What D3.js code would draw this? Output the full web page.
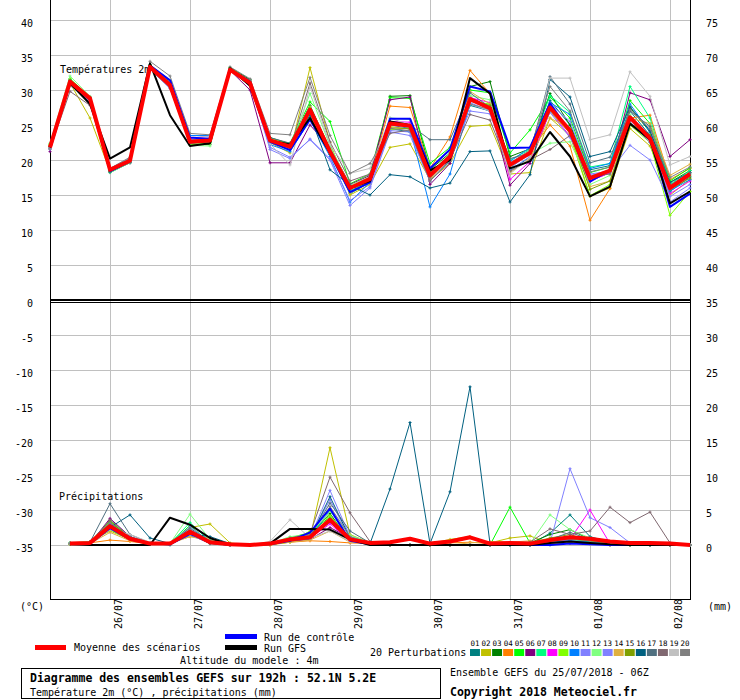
<!doctype html>
<html lang="fr">
<head>
<meta charset="utf-8">
<title>Diagramme des ensembles GEFS</title>
<script src="https://d3js.org/d3.v7.min.js"></script>
<style>
  body { margin: 0; background: #fff; }
  svg text { font-family: "DejaVu Sans Mono", "Liberation Mono", monospace; fill: #000; }
</style>
</head>
<body>
<div id="chart"></div>
<script>
// ---- data -------------------------------------------------------------
// 33 steps of 6h from 25/07 06Z (step 0) to 02/08 06Z (step 32)
var dayLabels = ["26/07", "27/07", "28/07", "29/07", "30/07", "31/07", "01/08", "02/08"];
var dayStep = [3, 7, 11, 15, 19, 23, 27, 31];

var tempTicksLeft = [40, 35, 30, 25, 20, 15, 10, 5, 0, -5, -10, -15, -20, -25, -30, -35];
var tempTicksRight = [75, 70, 65, 60, 55, 50, 45, 40, 35];
var precTicksRight = [30, 25, 20, 15, 10, 5, 0];

var memberNames = ["01","02","03","04","05","06","07","08","09","10","11","12","13","14","15","16","17","18","19","20"];
var memberColors = ["#008080","#c0c000","#008000","#ff8000","#00ff00","#800080","#00ff80","#ff00ff","#80ff00","#0080ff",
                    "#8080ff","#80ff80","#8080ff","#e0b040","#80a000","#006080","#507080","#806870","#c0c0c0","#808080"];

// temperature 2m (°C), steps 0..32
var tempMean = [21.8,31.2,28.8,18.6,19.9,33.3,30.7,22.6,22.8,32.9,31.0,22.8,21.9,27.2,21.2,16.0,17.3,25.2,24.9,17.8,20.5,28.7,27.4,19.3,21.0,27.5,24.2,17.4,18.5,26.1,23.1,16.0,18.0];
var tempCtrl = [21.8,31.2,28.6,18.4,19.8,33.5,31.4,23.2,23.0,32.9,31.2,22.6,21.4,25.8,21.0,15.4,16.8,25.9,25.9,18.8,21.5,30.5,29.8,21.7,21.8,28.1,24.0,16.9,18.6,26.2,23.3,13.3,15.2];
var tempGfs = [21.8,31.0,28.0,20.2,21.8,33.8,26.4,22.0,22.4,33.1,30.6,22.8,22.2,26.0,21.0,16.0,17.0,25.5,25.0,18.5,20.0,31.7,29.5,18.8,19.8,24.0,20.5,14.8,16.2,25.2,22.9,13.8,15.5];

var temp01 = [22.0,31.5,28.6,18.2,19.6,33.5,31.0,23.0,22.6,33.0,31.4,23.0,22.0,26.0,20.8,15.2,16.8,24.5,24.0,17.0,19.8,27.8,27.0,18.5,20.4,28.5,25.0,18.6,19.2,27.0,23.5,15.5,17.6];
var temp02 = [22.2,31.0,26.0,18.4,20.0,33.2,30.4,22.4,22.6,33.1,30.8,22.5,21.0,33.2,22.5,15.0,16.5,21.8,22.3,17.2,19.5,24.8,25.0,18.0,18.2,26.0,23.5,14.8,16.0,24.5,22.0,15.0,17.2];
var temp03 = [21.8,31.4,28.8,18.3,19.7,33.6,31.2,22.2,22.2,33.2,31.5,23.2,22.3,27.8,21.6,16.2,17.2,29.1,29.2,18.6,21.0,30.5,31.2,20.5,21.6,29.5,25.0,17.6,18.6,27.5,24.0,16.8,18.5];
var temp04 = [21.6,31.2,28.5,18.5,19.8,33.0,30.5,22.8,23.0,32.8,31.2,22.7,22.0,26.5,21.0,15.8,17.5,27.7,27.5,18.8,23.3,32.8,29.5,19.0,21.3,25.0,22.0,11.4,15.9,26.0,26.4,17.2,18.8];
var temp05 = [22.3,31.6,29.0,18.6,20.1,33.4,31.0,22.6,23.0,32.7,31.0,22.9,22.4,28.3,25.5,16.6,18.0,28.9,28.8,19.5,21.8,30.0,29.6,21.0,24.3,29.0,26.0,18.2,19.0,28.5,25.2,17.0,18.9];
var temp06 = [21.2,31.0,28.4,18.4,19.6,33.0,30.6,22.7,23.0,32.8,30.0,19.6,19.6,25.0,21.8,16.5,17.8,28.6,29.0,16.5,19.5,29.0,27.6,16.4,19.5,27.0,24.5,17.0,18.2,29.6,28.6,20.5,22.9];
var temp07 = [21.9,31.5,28.9,18.5,20.0,33.4,30.9,22.4,22.5,33.0,31.2,22.8,22.0,27.0,21.4,15.6,17.0,25.5,25.0,18.2,20.8,28.5,27.8,20.0,21.5,29.2,26.8,19.0,19.5,30.5,26.0,16.5,18.5];
var temp08 = [21.8,31.3,29.0,18.7,20.1,33.2,30.8,23.1,23.4,33.1,31.3,22.7,21.8,27.6,21.0,16.0,17.4,25.5,25.4,17.5,20.4,28.9,28.2,17.2,19.8,27.0,23.4,17.0,18.2,26.0,22.8,15.2,17.0];
var temp09 = [22.1,31.6,28.7,18.4,19.9,33.2,30.8,22.2,22.4,33.2,31.2,23.1,22.2,27.6,21.5,15.4,17.1,24.3,24.6,18.0,20.3,28.4,28.0,19.2,21.0,27.0,23.8,14.9,16.5,25.0,22.5,12.1,15.5];
var temp10 = [21.7,31.3,28.6,18.5,19.8,33.5,31.3,23.5,23.5,33.0,31.2,22.2,21.2,25.7,20.5,14.0,16.8,25.0,24.5,13.3,18.0,28.0,27.0,19.8,21.8,28.2,26.5,18.8,19.5,28.0,24.0,15.6,17.2];
var temp11 = [21.6,31.0,28.2,18.8,20.3,33.0,30.2,22.4,22.8,32.8,30.8,21.8,20.4,22.9,20.0,13.5,16.0,24.0,23.5,17.0,20.0,28.2,27.0,18.6,20.5,28.0,25.5,17.8,18.4,25.5,22.5,14.8,16.5];
var temp12 = [22.4,32.0,29.1,18.2,19.6,33.6,31.4,22.1,22.0,32.9,31.3,22.9,22.0,29.5,22.0,16.4,17.6,26.0,25.8,17.6,21.0,29.2,28.6,19.0,20.8,22.4,22.6,16.5,17.8,26.5,23.0,16.2,17.8];
var temp13 = [21.5,31.2,28.5,18.6,20.0,33.4,31.0,22.9,23.2,32.9,31.0,21.5,20.2,23.0,20.2,14.2,16.2,24.2,24.0,17.4,20.6,27.0,26.6,18.8,21.0,26.8,23.2,18.0,18.4,22.1,20.0,14.0,16.0];
var temp14 = [21.8,31.1,28.6,18.7,20.2,33.1,30.6,22.6,22.9,32.8,31.1,23.0,22.2,26.8,21.3,15.3,17.0,24.8,24.4,17.3,20.2,29.8,28.0,18.2,20.2,26.0,24.5,16.2,17.0,26.0,25.2,17.8,19.4];
var temp15 = [22.0,31.4,28.9,18.5,19.9,33.3,30.9,22.8,22.9,33.0,31.3,22.9,21.9,27.0,21.0,16.0,17.2,24.6,24.5,18.1,20.7,28.4,27.8,19.4,20.9,28.0,24.0,15.8,17.0,25.2,23.6,15.8,17.4];
var temp16 = [21.9,31.3,28.7,18.3,19.7,33.2,30.8,22.7,22.8,33.0,31.0,22.6,21.7,26.4,18.6,16.4,15.0,17.9,17.6,16.0,16.7,21.2,21.3,14.0,17.9,31.5,29.0,20.5,21.2,27.6,24.2,16.8,18.2];
var temp17 = [22.0,31.2,28.7,18.6,20.0,33.3,30.5,22.6,22.8,33.0,31.2,23.2,22.4,27.2,20.8,15.8,17.6,25.5,25.0,22.9,22.9,29.6,27.5,20.2,21.0,31.9,28.0,19.6,20.4,27.0,24.8,16.4,18.2];
var temp18 = [21.6,29.8,27.8,18.7,20.2,33.0,30.3,22.4,22.6,32.8,30.6,22.6,21.5,31.0,22.6,17.0,18.0,23.8,24.3,17.0,20.0,26.5,25.7,18.4,20.0,21.5,23.5,17.6,18.0,26.0,23.0,16.0,18.0];
var temp19 = [21.7,31.0,28.6,18.6,19.8,33.4,30.7,23.2,23.4,33.0,31.0,22.3,19.3,30.5,22.2,18.1,18.8,26.0,25.0,17.8,20.0,28.0,27.0,18.0,20.4,31.7,31.7,22.9,23.6,32.6,29.1,19.3,20.5];
var temp20 = [21.6,30.6,28.8,18.8,20.4,34.1,32.0,23.8,23.6,33.3,31.6,23.8,23.6,31.8,23.5,18.1,19.5,24.5,24.2,17.4,20.4,28.0,27.2,19.6,21.4,30.5,27.0,18.3,19.0,27.2,24.5,17.5,19.0];

// precipitation (mm per 6h), steps 1..32
var precMean = [0.2,0.3,2.7,0.9,0.2,0.2,1.9,0.4,0.1,0,0.2,0.8,1.1,3.6,0.8,0.3,0.4,0.9,0.2,0.5,1.1,0.2,0.3,0.2,0.7,1.1,0.9,0.5,0.3,0.3,0.2,0];
var precCtrl = [0.2,0.2,2.4,0.8,0.2,0.1,1.6,0.4,0,0,0.1,0.6,1.8,5.2,0.6,0.1,0,0,0,0,0,0,0,0,0,0.2,0.1,0,0,0,0,0];
var precGfs = [0.1,0,0,0,0,3.9,2.9,1.0,0,0,0.2,2.3,2.3,2.2,0.8,0,0,0,0,0,0,0,0,0,0.3,0.5,0.3,0.1,0,0,0,0];

var prec01 = [0.2,0.4,2.8,1.0,0.2,0,2.0,0.3,0,0,0.2,0.6,1.2,3.2,0.8,0.2,0,0,0,0,0,0,0,0,1.7,4.3,1.2,0.4,0.2,0,0,0];
var prec02 = [0.3,0.5,2.0,0.8,0.1,0.2,2.5,3.0,0.3,0,0,0.5,1.0,13.9,1.5,0.3,0,0,0.2,0.8,1.2,0.3,1.0,1.3,0.2,0.3,0.3,0.2,0,0,0,0];
var prec03 = [0.1,0.3,3.2,1.1,0.2,0.2,1.6,0.2,0,0,0.2,0.9,1.4,4.5,0.5,0.3,0,0,0,0,0,0,0.2,0.3,1.5,2.2,0.8,0.3,0.2,0,0,0];
var prec04 = [0.2,0.3,0.7,0.5,0.2,0.3,1.2,1.0,0.2,0,0,0.4,0.6,0.5,0.3,0.2,0,0,0,0.3,0.4,0.2,0,0,0.3,0.5,0.2,0,0,0,0,0];
var prec05 = [0.2,0.4,3.5,1.0,0.3,0.2,2.8,0.3,0,0,0.2,1.0,1.8,4.0,0.8,0.2,0,0,0,0,0,0,5.4,0.3,0.8,1.0,0.4,0.2,0,0,0,0];
var prec06 = [0.2,0.2,3.8,1.2,0.2,0.1,1.5,0.2,0,0,0.1,0.5,0.8,2.5,1.0,0.4,0,0,0,0,0,0,0,0,0.3,0.6,0.3,0.2,0.1,0,0,0];
var prec07 = [0.3,0.4,3.0,0.9,0.2,0.2,3.2,0.5,0.1,0,0.2,0.8,1.2,3.5,1.2,0.3,0,0,0,0,0,0,0,0,0.5,0.8,0.5,0.2,0,0,0,0];
var prec08 = [0.2,0.3,2.5,0.8,0.2,0.2,2.2,0.4,0,0,0.2,0.7,1.0,3.0,0.6,0.2,0,0,0,0,0,0,0.3,0.2,0.3,0.8,5.0,0.2,0,0,0,0];
var prec09 = [0.1,0.3,2.2,0.7,0.2,0.2,1.8,0.6,0.2,0,0.1,0.4,2.0,4.2,1.0,0.3,0,0,0,0,0,0,0,0.2,0.5,0.9,0.6,0.2,0,0,0,0];
var prec10 = [0.2,0.4,3.0,1.2,0.2,0.1,1.4,0.3,0,0,0.2,0.6,0.9,5.0,0.7,0.2,0,0,0,0,0,0,0,0,0.4,0.6,0.4,0.3,0.2,0,0,0];
var prec11 = [0.2,0.3,2.6,0.9,0.2,0.2,2.6,0.5,0,0,0.2,0.8,1.0,7.8,1.2,0.3,0,0,0,0,0,0,0,0,0.3,10.9,3.9,2.5,0.3,0,0,0];
var prec12 = [0.2,0.5,2.4,0.8,0.3,0.2,4.4,0.8,0.1,0,0.2,1.2,1.5,4.8,1.4,0.4,0,0,0,0,0,0,0,0.2,4.3,2.2,1.0,0.3,0,0,0,0];
var prec13 = [0.2,0.3,2.3,0.9,0.2,0.2,2.1,0.4,0,0,0.2,0.9,1.1,6.5,0.9,0.3,0,0,0,0,0,0,0,0,0.6,1.2,0.8,0.4,0.2,0,0,0];
var prec14 = [0.1,0.2,1.8,0.6,0.1,0.2,1.2,0.6,0.2,0,0.1,0.4,0.7,2.0,0.4,0.2,0,0,0,0,0.3,0.5,0.4,0.6,0.4,0.3,0.2,0,0,0,0,0];
var prec15 = [0.2,0.3,3.4,1.0,0.2,0.2,1.7,0.3,0,0,0.2,0.7,1.3,3.8,0.8,0.2,0,0,0,0,0,0,0.2,0.3,1.0,1.5,0.6,0.2,0,0,0,0];
var prec16 = [0.2,0.3,2.5,4.3,1.0,0.2,1.6,1.2,0.2,0,0.2,0.6,1.0,6.9,1.0,0.2,8.0,17.5,0.2,7.6,22.6,0.2,0,0,0,0.3,0.2,0,0,0,0,0];
var prec17 = [0.3,0.4,5.9,1.5,0.3,0.2,2.4,0.5,0.1,0,0.2,0.8,1.2,6.0,2.0,0.3,0,0,0,0,0,0,0,0,0.8,1.8,0.8,0.3,0,0,0,0];
var prec18 = [0.2,0.3,3.6,1.2,0.3,0.2,2.0,0.4,0,0,0.2,1.0,1.6,9.7,4.6,0.5,0,0,0,0,0,0,0.3,0.4,2.3,1.5,2.0,5.4,3.2,4.7,0.3,0];
var prec19 = [0.2,0.3,2.2,1.5,0.4,0.2,1.5,0.3,0,0,0.5,3.6,1.0,2.0,0.5,0.2,0,0,0,0,0,0,0,0,0.2,0.4,0.3,0.2,0,0,0,0];
var prec20 = [0.2,0.4,3.2,1.0,0.2,0.2,2.2,0.6,0.1,0,0.2,0.8,1.4,5.5,1.2,0.3,0,0,0,0,0,0,0,0.2,0.5,0.8,0.6,0.4,0.2,0,0,0];

var tempMembers = [temp01,temp02,temp03,temp04,temp05,temp06,temp07,temp08,temp09,temp10,
                   temp11,temp12,temp13,temp14,temp15,temp16,temp17,temp18,temp19,temp20];
var precMembers = [prec01,prec02,prec03,prec04,prec05,prec06,prec07,prec08,prec09,prec10,
                   prec11,prec12,prec13,prec14,prec15,prec16,prec17,prec18,prec19,prec20];

// ---- drawing ----------------------------------------------------------
var W = 740, H = 700;
var svg = d3.select("#chart").append("svg")
    .attr("width", W).attr("height", H);

svg.append("rect").attr("width", W).attr("height", H).attr("fill", "#fff");

var x = d3.scaleLinear().domain([0, 32]).range([50, 690]);
var yL = d3.scaleLinear().domain([0, 40]).range([300, 20]);     // left axis (°C)
var yR = d3.scaleLinear().domain([35, 75]).range([300, 20]);    // right axis, top panel
var yP = d3.scaleLinear().domain([0, 35]).range([545, 300]);    // precipitation (mm)

var grid = svg.append("g").attr("shape-rendering", "crispEdges")
    .attr("stroke", "#c0c0c0").attr("stroke-width", 1);

grid.selectAll("line.h")
  .data(tempTicksLeft.filter(function (d) { return d !== 0; }))
  .enter().append("line")
    .attr("x1", 50).attr("x2", 690)
    .attr("y1", function (d) { return Math.round(yL(d)) + 0.5; })
    .attr("y2", function (d) { return Math.round(yL(d)) + 0.5; });

grid.selectAll("line.v")
  .data(dayStep)
  .enter().append("line")
    .attr("y1", 0).attr("y2", 599)
    .attr("x1", function (d) { return Math.round(x(d)) + 0.5; })
    .attr("x2", function (d) { return Math.round(x(d)) + 0.5; });

// frame
var frame = svg.append("g").attr("stroke", "#000").attr("shape-rendering", "crispEdges");
frame.append("line").attr("x1", 50.5).attr("x2", 50.5).attr("y1", 0).attr("y2", 599);
frame.append("line").attr("x1", 690.5).attr("x2", 690.5).attr("y1", 0).attr("y2", 599);
frame.append("line").attr("x1", 50).attr("x2", 691).attr("y1", 299.5).attr("y2", 299.5).attr("stroke-width", 2);
frame.append("line").attr("x1", 50).attr("x2", 691).attr("y1", 302.5).attr("y2", 302.5);
frame.append("line").attr("x1", 50).attr("x2", 691).attr("y1", 599.5).attr("y2", 599.5);

// axis labels
var labels = svg.append("g").attr("font-size", "10px");
labels.selectAll("text.l")
  .data(tempTicksLeft)
  .enter().append("text")
    .attr("x", 33).attr("y", function (d) { return yL(d) + 7; })
    .attr("text-anchor", "end")
    .text(function (d) { return d; });
labels.selectAll("text.r")
  .data(tempTicksRight)
  .enter().append("text")
    .attr("x", 706).attr("y", function (d) { return yR(d) + 7; })
    .text(function (d) { return d; });
labels.selectAll("text.p")
  .data(precTicksRight)
  .enter().append("text")
    .attr("x", 706).attr("y", function (d) { return yP(d) + 7; })
    .text(function (d) { return d; });

labels.selectAll("text.day")
  .data(dayLabels)
  .enter().append("text")
    .attr("transform", function (d, i) {
        return "translate(" + (x(dayStep[i]) + 12) + ",629) rotate(-90)";
    })
    .text(function (d) { return d; });

labels.append("text").attr("x", 20).attr("y", 610).text("(°C)");
labels.append("text").attr("x", 708).attr("y", 610).text("(mm)");
labels.append("text").attr("x", 60).attr("y", 73).text("Températures 2m");
labels.append("text").attr("x", 59).attr("y", 500).text("Précipitations");

// series
var tLine = d3.line()
    .x(function (d, i) { return x(i); })
    .y(function (d) { return yL(d); });
var pLine = d3.line()
    .x(function (d, i) { return x(i + 1); })
    .y(function (d) { return yP(d); });

function cross(px, py) {
    return "M" + (px - 1.5) + "," + py + "h3M" + px + "," + (py - 1.5) + "v3";
}

var members = svg.append("g").attr("fill", "none").attr("stroke-width", 1);
tempMembers.forEach(function (s, k) {
    members.append("path").attr("d", tLine(s)).attr("stroke", memberColors[k]);
    members.append("path")
        .attr("d", s.map(function (d, i) { return cross(x(i), yL(d)); }).join(""))
        .attr("stroke", memberColors[k]);
});
precMembers.forEach(function (s, k) {
    members.append("path").attr("d", pLine(s)).attr("stroke", memberColors[k]);
    members.append("path")
        .attr("d", s.map(function (d, i) { return cross(x(i + 1), yP(d)); }).join(""))
        .attr("stroke", memberColors[k]);
});

var main = svg.append("g").attr("fill", "none").attr("stroke-linejoin", "round");
main.append("path").attr("d", tLine(tempCtrl)).attr("stroke", "#0000ff").attr("stroke-width", 2);
main.append("path").attr("d", pLine(precCtrl)).attr("stroke", "#0000ff").attr("stroke-width", 2);
main.append("path").attr("d", tLine(tempGfs)).attr("stroke", "#000").attr("stroke-width", 2);
main.append("path").attr("d", pLine(precGfs)).attr("stroke", "#000").attr("stroke-width", 2);
main.append("path").attr("d", tLine(tempMean)).attr("stroke", "#ff0000").attr("stroke-width", 4);
main.append("path").attr("d", pLine(precMean)).attr("stroke", "#ff0000").attr("stroke-width", 4);

// legend
var leg = svg.append("g").attr("font-size", "10px");
leg.append("rect").attr("x", 35).attr("y", 645).attr("width", 31).attr("height", 5).attr("fill", "#ff0000");
leg.append("text").attr("x", 74).attr("y", 651).text("Moyenne des scénarios");
leg.append("rect").attr("x", 225).attr("y", 634).attr("width", 32).attr("height", 5).attr("fill", "#0000ff");
leg.append("text").attr("x", 264).attr("y", 641).text("Run de contrôle");
leg.append("rect").attr("x", 225).attr("y", 645).attr("width", 32).attr("height", 5).attr("fill", "#000");
leg.append("text").attr("x", 264).attr("y", 652).text("Run GFS");
leg.append("text").attr("x", 180).attr("y", 664).text("Altitude du modele : 4m");
leg.append("text").attr("x", 370).attr("y", 656).text("20 Perturbations");

var sw = d3.scaleBand().domain(memberNames).range([470, 690]).paddingInner(0.1);
leg.selectAll("rect.sw")
  .data(memberNames)
  .enter().append("rect")
    .attr("x", function (d) { return sw(d); })
    .attr("y", 649).attr("width", sw.bandwidth()).attr("height", 7)
    .attr("fill", function (d, i) { return memberColors[i]; });
leg.selectAll("text.sw")
  .data(memberNames)
  .enter().append("text")
    .attr("x", function (d) { return sw(d) + sw.bandwidth() / 2; })
    .attr("y", 646).attr("text-anchor", "middle")
    .attr("font-size", "7.5px")
    .text(function (d) { return d; });

// title box
svg.append("rect").attr("x", 21.5).attr("y", 668.5).attr("width", 419).attr("height", 30)
    .attr("fill", "none").attr("stroke", "#000").attr("shape-rendering", "crispEdges");
svg.append("text").attr("x", 30).attr("y", 682).attr("font-size", "11.5px").attr("font-weight", "bold")
    .text("Diagramme des ensembles GEFS sur 192h : 52.1N 5.2E");
svg.append("text").attr("x", 30).attr("y", 696).attr("font-size", "10px")
    .text("Température 2m (°C) , précipitations (mm)");
svg.append("text").attr("x", 450).attr("y", 676).attr("font-size", "10px")
    .text("Ensemble GEFS du 25/07/2018 - 06Z");
svg.append("text").attr("x", 450).attr("y", 696).attr("font-size", "11.5px").attr("font-weight", "bold")
    .text("Copyright 2018 Meteociel.fr");
</script>
</body>
</html>
